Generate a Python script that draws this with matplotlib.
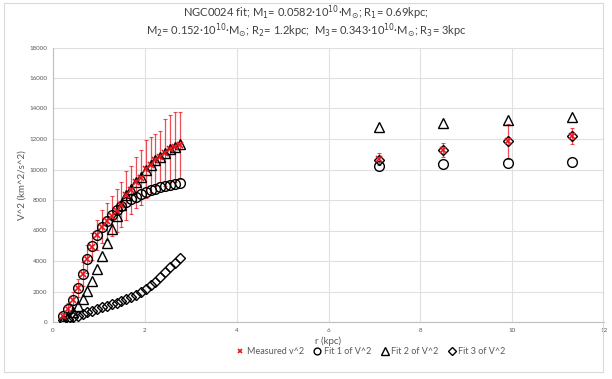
import matplotlib
matplotlib.use("Agg")
import matplotlib.pyplot as plt
from matplotlib.patches import Rectangle

plt.rcParams["font.family"] = ["Lato", "DejaVu Sans"]

# inner rotation curve (kpc, km^2/s^2)
r_in = [0.22, 0.33, 0.43, 0.54, 0.65, 0.75, 0.86, 0.96, 1.07, 1.17, 1.28, 1.39, 1.49,
        1.60, 1.70, 1.81, 1.92, 2.02, 2.13, 2.23, 2.34, 2.45, 2.55, 2.66, 2.76]
# outer points
r_out = [7.1, 8.5, 9.9, 11.3]

meas_in = [390, 850, 1440, 2230, 3150, 4130, 4940, 5700, 6250, 6600, 6950, 7300, 7700,
           8300, 8650, 9150, 9450, 10050, 10300, 10600, 10850, 11100, 11350, 11450, 11600]
err_in = [200, 400, 500, 600, 800, 900, 900, 1000, 1100, 1200, 1300, 1400, 1500,
          1600, 1600, 1700, 1800, 1900, 1800, 1700, 1700, 2200, 2200, 2300, 2200]
meas_out = [10700, 11300, 11850, 12200]
err_out = [400, 450, 1150, 500]

fit1_in = [370, 830, 1420, 2230, 3150, 4130, 4960, 5680, 6230, 6650, 7000, 7320, 7600,
           7850, 8050, 8220, 8380, 8520, 8640, 8740, 8830, 8910, 8980, 9050, 9100]
fit1_out = [10200, 10360, 10450, 10500]

fit2_in = [150, 380, 680, 1070, 1500, 2050, 2710, 3480, 4330, 5150, 6100, 6950, 7700,
           8300, 8700, 9150, 9500, 9950, 10300, 10600, 10850, 11100, 11330, 11500, 11700]
fit2_out = [12800, 13050, 13250, 13450]

fit3_in = [100, 210, 320, 420, 520, 630, 740, 850, 960, 1050, 1150, 1260, 1380,
           1490, 1620, 1780, 1950, 2150, 2400, 2650, 2950, 3280, 3620, 3900, 4200]
fit3_out = [10650, 11300, 11850, 12200]

r_all = r_in + r_out

fig = plt.figure(figsize=(6.12, 3.79), dpi=100)
fig.patches.append(Rectangle((0.006, 0.018), 0.98, 0.975, transform=fig.transFigure,
                             fill=False, edgecolor="#d9d9d9", linewidth=0.8))
ax = fig.add_axes([53 / 612, 1 - 322 / 379, (604 - 53) / 612, (322 - 47.5) / 379])

ax.errorbar(r_all, meas_in + meas_out, yerr=err_in + err_out, fmt="none",
            ecolor="#e8141c", elinewidth=0.9, capsize=1.5, capthick=0.8, alpha=0.75, zorder=2)
ax.plot(r_all, fit1_in + fit1_out, "o", ms=7, mfc="none", mec="black", mew=1.0,
        label="Fit 1 of V^2", zorder=3)
ax.plot(r_all, fit2_in + fit2_out, "^", ms=7.5, mfc="none", mec="black", mew=1.0,
        label="Fit 2 of V^2", zorder=3)
ax.plot(r_all, fit3_in + fit3_out, "D", ms=5.2, mfc="none", mec="black", mew=1.0,
        label="Fit 3 of V^2", zorder=3)
ax.plot(r_all, meas_in + meas_out, "x", ms=4, mec="#e8141c", mew=1.2,
        label="Measured v^2", zorder=4)

ax.set_xlim(0, 12)
ax.set_ylim(0, 18000)
ax.set_xticks(range(0, 13, 2))
ax.set_yticks(range(0, 18001, 2000))
ax.tick_params(length=0, labelsize=4.5, labelcolor="#595959", pad=4)
ax.grid(True, color="#e0e0e0", linewidth=0.8)
ax.set_axisbelow(True)
for side in ["top", "right"]:
    ax.spines[side].set_visible(False)
for side in ["left", "bottom"]:
    ax.spines[side].set_color("#bfbfbf")
    ax.spines[side].set_linewidth(0.8)

ax.set_xlabel("r (kpc)", fontsize=7, color="#595959", labelpad=3)
ax.set_ylabel("V^2 (km^2/s^2)", fontsize=7, color="#595959", labelpad=2)

fig.text(0.5, 0.967, r"NGC0024 fit; M$_1$= 0.0582·10$^{10}$·M$_{\odot}$; R$_1$= 0.69kpc;",
         ha="center", va="center", fontsize=8, color="#404040")
fig.text(0.5, 0.920, r"M$_2$= 0.152·10$^{10}$·M$_{\odot}$; R$_2$= 1.2kpc;  "
         r"M$_3$= 0.343·10$^{10}$·M$_{\odot}$; R$_3$= 3kpc",
         ha="center", va="center", fontsize=8, color="#404040")

h, l = ax.get_legend_handles_labels()
order = [3, 0, 1, 2]
fig.legend([h[i] for i in order], [l[i] for i in order], loc="center",
           bbox_to_anchor=(0.605, 0.072), ncol=4, frameon=False, fontsize=6.5,
           labelcolor="#595959", handletextpad=0.1, columnspacing=0.9, markerscale=0.7,
           handlelength=1.2)

fig.savefig("out.png", dpi=100)
